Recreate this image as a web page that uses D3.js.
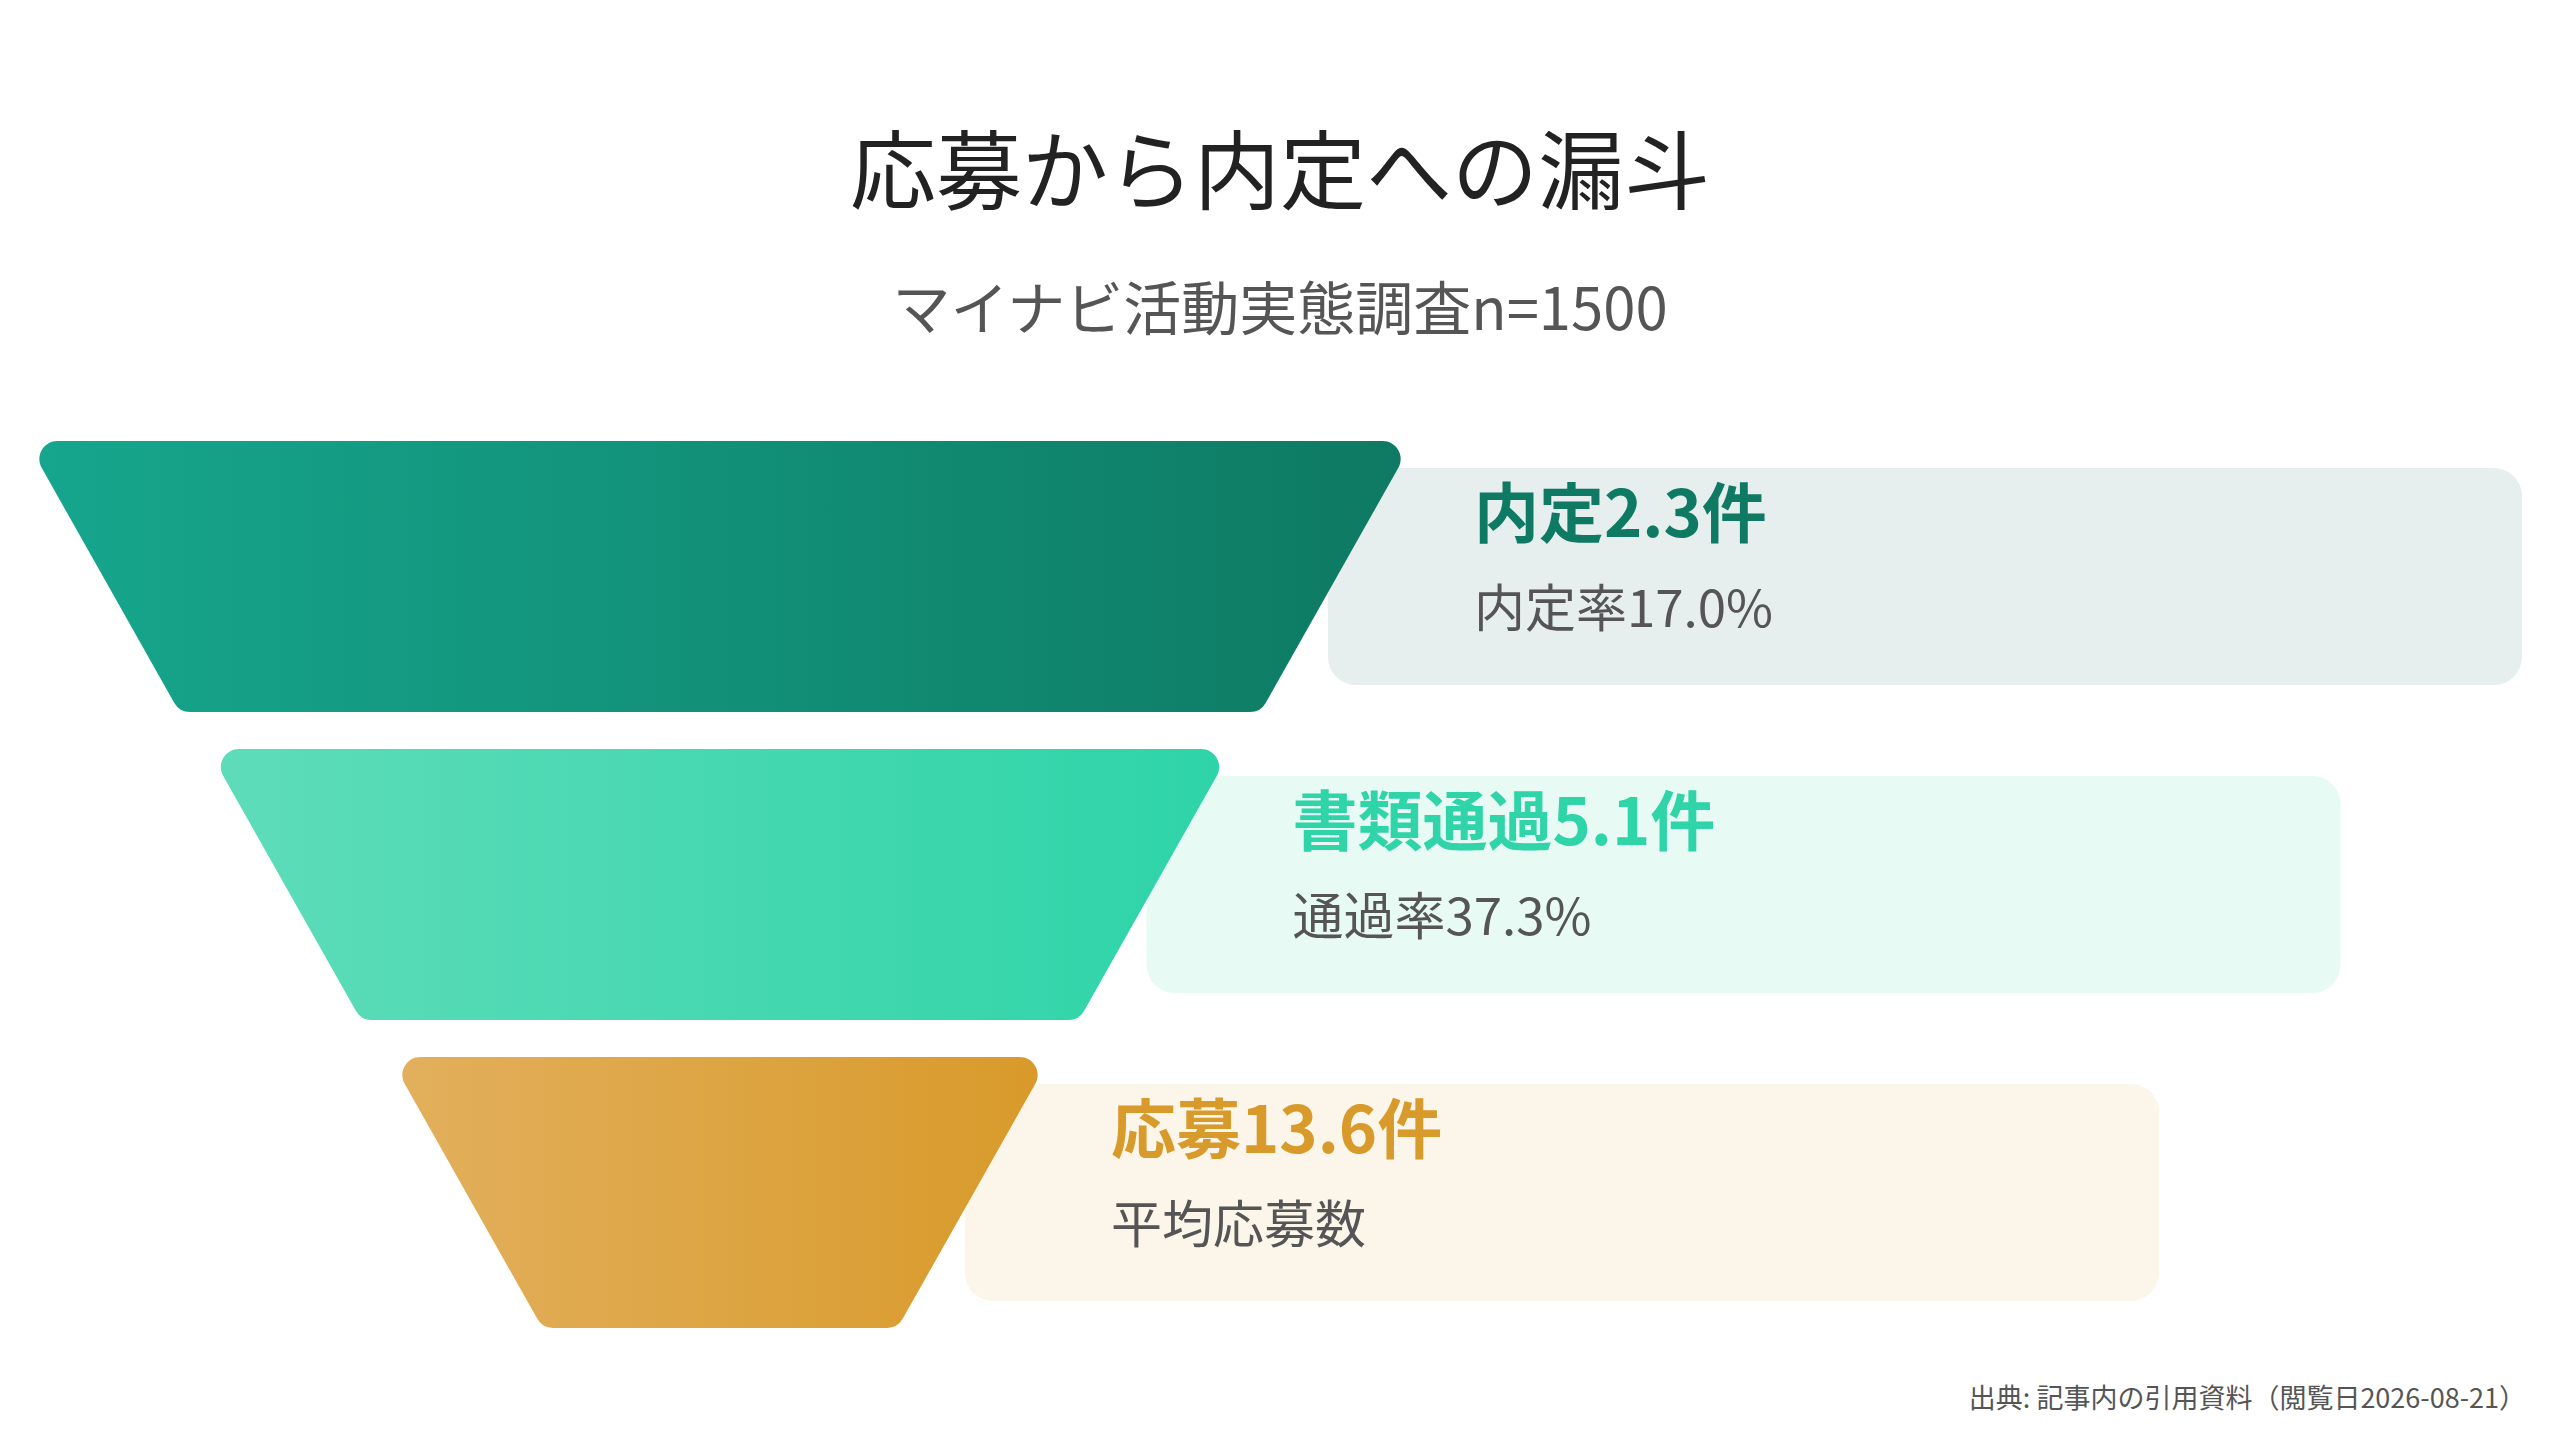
<!DOCTYPE html>
<html lang="ja">
<head>
<meta charset="UTF-8">
<title>応募から内定への漏斗</title>
<script src="https://d3js.org/d3.v7.min.js"></script>
<style>
    html, body { margin: 0; padding: 0; background: #fff; }
    svg { display: block; font-family: "Noto Sans CJK JP", "Noto Sans", sans-serif; }
</style>
</head>
<body>
<div id="chart"></div>
<script>
    // ---- data ----
    const stages = ["内定", "書類通過", "応募"];
    const counts = [2.3, 5.1, 13.6];
    const subLabels = ["内定率17.0%", "通過率37.3%", "平均応募数"];
    const gradFrom = ["#16a68d", "#5edcb9", "#e2af5c"];
    const gradTo = ["#0e7a63", "#2ed4a8", "#d89a2a"];
    const boxFills = ["#e6efee", "#e8faf4", "#fcf5ea"];
    const labelColors = ["#0f7a63", "#2fd4a9", "#d89a2a"];

    const W = 2560, H = 1440;
    const cx = 720;

    const svg = d3.select("#chart").append("svg")
        .attr("width", W).attr("height", H)
        .attr("viewBox", `0 0 ${W} ${H}`);

    // titles
    svg.append("text")
        .attr("x", W / 2).attr("y", 203)
        .attr("text-anchor", "middle")
        .attr("font-size", 86).attr("fill", "#222")
        .text("応募から内定への漏斗");
    svg.append("text")
        .attr("x", W / 2).attr("y", 330)
        .attr("text-anchor", "middle")
        .attr("font-size", 58).attr("fill", "#555")
        .text("マイナビ活動実態調査n=1500");

    // scales
    const y = d3.scaleBand().domain(stages).range([441, 1328]).paddingInner(0.12);
    // top width of each segment shrinks step by step
    const topWidth = d3.scaleLinear().domain([0, stages.length]).range([1387, 298]);
    const inset = 153;   // how much each side narrows inside one segment

    // rounded polygon with d3.path arcTo
    function roundedPoly(pts, r) {
        const p = d3.path();
        const n = pts.length;
        const mid = (a, b) => [(a[0] + b[0]) / 2, (a[1] + b[1]) / 2];
        const start = mid(pts[n - 1], pts[0]);
        p.moveTo(start[0], start[1]);
        for (let i = 0; i < n; i++) {
            const c = pts[i], nx = pts[(i + 1) % n];
            p.arcTo(c[0], c[1], nx[0], nx[1], r);
        }
        p.closePath();
        return p.toString();
    }

    const defs = svg.append("defs");
    stages.forEach((s, i) => {
        const g = defs.append("linearGradient").attr("id", "grad" + i)
            .attr("x1", "0%").attr("x2", "100%").attr("y1", "0%").attr("y2", "0%");
        g.append("stop").attr("offset", "0%").attr("stop-color", gradFrom[i]);
        g.append("stop").attr("offset", "100%").attr("stop-color", gradTo[i]);
    });

    const rows = svg.selectAll("g.stage")
        .data(stages)
        .join("g").attr("class", "stage");

    // label boxes (behind funnel)
    const boxW = 1194, boxPad = 27;
    const boxLeft = (d, i) => cx + topWidth(i) / 2 - inset / 2 - 9;
    rows.append("rect")
        .attr("x", boxLeft)
        .attr("y", d => y(d) + boxPad)
        .attr("width", boxW)
        .attr("height", y.bandwidth() - boxPad * 2)
        .attr("rx", 28)
        .attr("fill", (d, i) => boxFills[i]);

    // funnel segments
    rows.append("path")
        .attr("d", (d, i) => {
            const tw = topWidth(i) / 2, bw = tw - inset;
            const y0 = y(d), y1 = y(d) + y.bandwidth();
            return roundedPoly([[cx - tw, y0], [cx + tw, y0], [cx + bw, y1], [cx - bw, y1]], 18);
        })
        .attr("fill", (d, i) => `url(#grad${i})`);

    // labels
    rows.append("text")
        .attr("x", (d, i) => boxLeft(d, i) + 146)
        .attr("y", d => y(d) + 96)
        .attr("font-size", 65).attr("font-weight", 700)
        .attr("fill", (d, i) => labelColors[i])
        .text((d, i) => d + counts[i] + "件");
    rows.append("text")
        .attr("x", (d, i) => boxLeft(d, i) + 146)
        .attr("y", d => y(d) + 186)
        .attr("font-size", 51)
        .attr("fill", "#555")
        .text((d, i) => subLabels[i]);

    // source
    svg.append("text")
        .attr("x", 2526).attr("y", 1408)
        .attr("text-anchor", "end")
        .attr("font-size", 27).attr("fill", "#555")
        .text("出典: 記事内の引用資料（閲覧日2026-08-21）");
</script>
</body>
</html>
